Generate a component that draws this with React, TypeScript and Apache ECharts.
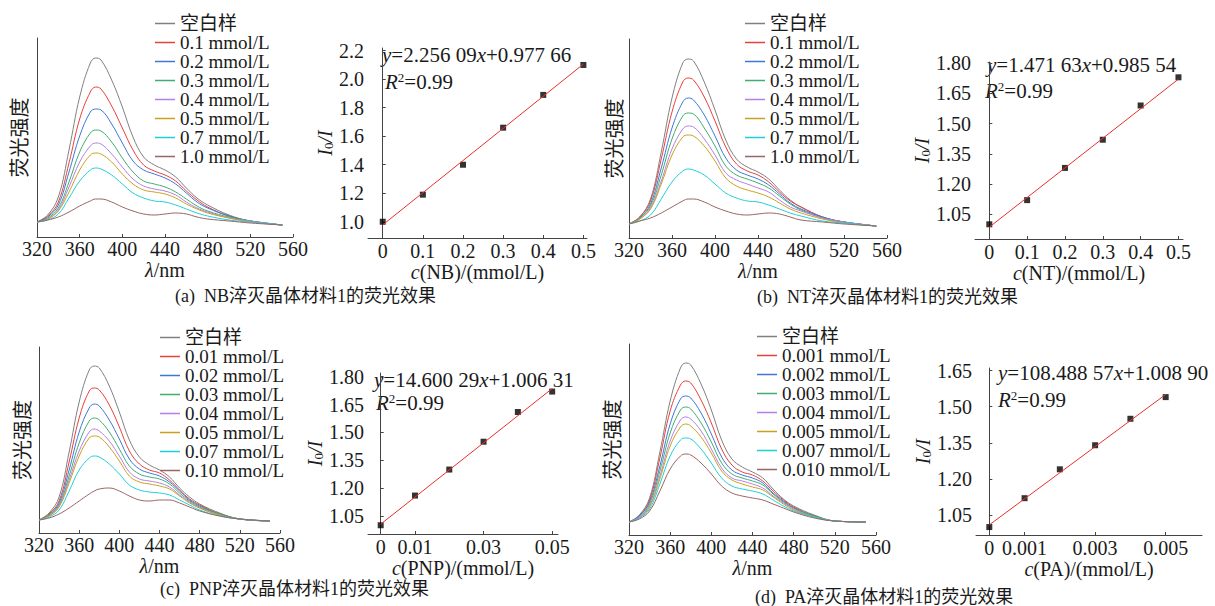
import React, { useEffect, useRef } from 'react';
import * as echarts from 'echarts';

const FONT = 'Liberation Serif, DejaVu Serif, Noto Sans CJK SC, serif';
const TXT = '#1a1a1a';
const AX = '#444444';
const COLORS = ['#808080', '#e8413c', '#3d78d8', '#3fae6f', '#b77fe6', '#c9a21c', '#1fcfd6', '#9a6464'];

// wavelength grid (nm)
const wavelengths = [320, 330, 340, 350, 360, 370, 375, 380, 390, 400, 410, 420, 430, 440, 450, 460, 470, 480, 500, 520, 550];

// legend names
const namesAB = ['空白样', '0.1 mmol/L', '0.2 mmol/L', '0.3 mmol/L', '0.4 mmol/L', '0.5 mmol/L', '0.7 mmol/L', '1.0 mmol/L'];
const namesC = ['空白样', '0.01 mmol/L', '0.02 mmol/L', '0.03 mmol/L', '0.04 mmol/L', '0.05 mmol/L', '0.07 mmol/L', '0.10 mmol/L'];
const namesD = ['空白样', '0.001 mmol/L', '0.002 mmol/L', '0.003 mmol/L', '0.004 mmol/L', '0.005 mmol/L', '0.007 mmol/L', '0.010 mmol/L'];

// (a) NB spectra
const blankA = [15, 22, 40, 87, 140, 174, 179, 177, 157, 130, 100, 80, 72, 67, 60, 49, 39, 32, 22, 16, 12];
const a01 = [15, 21, 35, 74, 118, 145, 150, 148, 131, 109, 87, 72, 66, 62, 56, 46, 37, 30, 21, 16, 12];
const a02 = [15, 20, 32, 65, 101, 125, 128, 127, 113, 94, 76, 67, 63, 59, 53, 44, 35, 29, 21, 16, 12];
const a03 = [15, 19, 29, 55, 85, 104, 107, 106, 95, 79, 65, 56, 53, 50, 45, 38, 31, 26, 20, 16, 12];
const a04 = [15, 18, 27, 50, 75, 91, 94, 93, 83, 70, 58, 51, 48, 46, 42, 35, 29, 25, 19, 16, 12];
const a05 = [15, 18, 26, 45, 67, 82, 84, 83, 75, 63, 53, 47, 45, 43, 39, 33, 28, 24, 19, 15, 12];
const a07 = [15, 17, 23, 39, 56, 67, 69, 68, 62, 53, 44, 39, 36, 35, 32, 28, 24, 21, 17, 15, 12];
const a10 = [15, 17, 20, 25, 31, 36, 38, 38, 35, 30, 26, 23, 22, 23, 24, 23, 20, 18, 16, 14, 12];

// (b) NT spectra
const blankB = [14, 21, 39, 86, 140, 175, 179, 177, 156, 128, 98, 79, 71, 66, 59, 48, 38, 31, 21, 16, 12];
const b01 = [14, 21, 37, 79, 126, 156, 160, 158, 141, 117, 91, 74, 67, 63, 56, 46, 37, 31, 21, 16, 12];
const b02 = [14, 20, 34, 70, 110, 136, 140, 138, 123, 102, 80, 68, 63, 59, 53, 44, 35, 29, 21, 16, 12];
const b03 = [14, 20, 32, 63, 99, 122, 125, 124, 110, 92, 72, 63, 59, 55, 50, 42, 34, 28, 20, 16, 12];
const b04 = [14, 19, 30, 57, 89, 109, 112, 111, 99, 83, 65, 58, 54, 50, 46, 38, 31, 27, 20, 16, 12];
const b05 = [14, 19, 29, 54, 83, 101, 103, 102, 92, 77, 60, 52, 48, 45, 41, 35, 29, 25, 19, 15, 12];
const b07 = [14, 17, 23, 39, 56, 67, 69, 68, 63, 54, 45, 40, 37, 36, 33, 29, 25, 22, 17, 15, 12];
const b10 = [14, 17, 20, 25, 31, 37, 39, 39, 36, 31, 27, 24, 23, 24, 25, 24, 21, 18, 16, 14, 12];

// (c) PNP spectra
const blankC = [13, 20, 36, 81, 131, 163, 167, 165, 147, 121, 93, 76, 68, 63, 56, 45, 36, 29, 20, 14, 12];
const c001 = [13, 19, 32, 71, 115, 142, 145, 143, 128, 106, 82, 69, 63, 60, 53, 43, 34, 28, 19, 14, 12];
const c002 = [13, 18, 30, 63, 101, 125, 129, 127, 113, 94, 74, 64, 60, 57, 51, 42, 33, 27, 19, 14, 12];
const c003 = [13, 18, 28, 57, 90, 112, 115, 113, 101, 84, 67, 59, 56, 54, 49, 40, 32, 26, 19, 14, 12];
const c004 = [13, 17, 27, 53, 82, 101, 104, 102, 92, 77, 61, 54, 52, 50, 46, 38, 31, 25, 18, 14, 12];
const c005 = [13, 17, 26, 50, 77, 95, 97, 96, 86, 72, 57, 51, 49, 47, 44, 37, 30, 25, 18, 14, 12];
const c007 = [13, 16, 23, 42, 63, 75, 77, 76, 69, 59, 48, 43, 41, 40, 38, 33, 28, 23, 17, 14, 12];
const c010 = [13, 15, 19, 25, 32, 39, 42, 44, 45, 42, 37, 33, 32, 33, 33, 30, 26, 22, 17, 14, 12];

// (d) PA spectra
const blankD = [13, 20, 37, 83, 134, 167, 172, 170, 151, 125, 95, 76, 68, 63, 57, 46, 36, 29, 20, 14, 13];
const d001 = [13, 19, 35, 77, 124, 150, 154, 152, 135, 112, 86, 70, 63, 60, 54, 44, 35, 28, 19, 14, 13];
const d002 = [13, 19, 33, 69, 111, 136, 139, 137, 122, 101, 78, 65, 60, 57, 52, 42, 34, 27, 19, 14, 13];
const d003 = [13, 18, 31, 64, 102, 125, 128, 126, 112, 93, 72, 61, 57, 54, 50, 41, 33, 27, 19, 14, 13];
const d004 = [13, 18, 29, 59, 94, 115, 118, 116, 104, 86, 67, 57, 54, 51, 47, 39, 32, 26, 18, 14, 13];
const d005 = [13, 17, 28, 56, 89, 108, 111, 109, 98, 82, 64, 55, 51, 48, 45, 38, 31, 25, 18, 14, 13];
const d007 = [13, 17, 26, 51, 79, 95, 97, 96, 86, 72, 57, 49, 46, 44, 41, 35, 29, 24, 18, 14, 13];
const d010 = [13, 16, 24, 44, 66, 79, 81, 80, 72, 61, 49, 42, 39, 37, 35, 31, 27, 23, 17, 14, 13];

// Stern-Volmer data
const concAB = [0, 0.1, 0.2, 0.3, 0.4, 0.5];
const ratioA = [1.0, 1.19, 1.4, 1.66, 1.89, 2.1];
const ratioB = [1.0, 1.12, 1.28, 1.42, 1.59, 1.73];
const concC = [0, 0.01, 0.02, 0.03, 0.04, 0.05];
const ratioC = [1.0, 1.16, 1.3, 1.45, 1.61, 1.72];
const concD = [0, 0.001, 0.002, 0.003, 0.004, 0.005];
const ratioD = [1.0, 1.12, 1.24, 1.34, 1.45, 1.54];
// fitted line end points
const fitA = [[0, 0.978], [0.5, 2.106]];
const fitB = [[0, 0.986], [0.5, 1.721]];
const fitC = [[0, 1.006], [0.05, 1.736]];
const fitD = [[0, 1.009], [0.005, 1.551]];

// tick labels
const xTicksAB = [0, 0.1, 0.2, 0.3, 0.4, 0.5];
const xTicksC = [0, 0.01, 0.03, 0.05];
const xTicksD = [0, 0.001, 0.003, 0.005];
const yTicksA = [1.0, 1.2, 1.4, 1.6, 1.8, 2.0, 2.2];
const yTicksBC = [1.05, 1.2, 1.35, 1.5, 1.65, 1.8];
const yTicksD = [1.05, 1.2, 1.35, 1.5, 1.65];

const nameStyle = (size: number) => ({
  fontFamily: FONT, fontSize: size, color: TXT,
  rich: {
    i: { fontStyle: 'italic', fontFamily: FONT, fontSize: size, color: TXT },
    sub: { fontFamily: FONT, fontSize: 13, color: TXT, verticalAlign: 'bottom', padding: [6, 0, 0, 0] },
  },
});

const specX = (gi: number, nameGap: number) => ({
  type: 'value', gridIndex: gi, min: 320, max: 560, interval: 40,
  name: '{i|λ}/nm', nameLocation: 'middle', nameGap,
  nameTextStyle: nameStyle(20),
  axisLine: { lineStyle: { color: AX, width: 1 } },
  axisTick: { inside: true, length: 3, lineStyle: { color: AX } },
  axisLabel: { fontFamily: FONT, fontSize: 20, color: TXT, margin: 2 },
  splitLine: { show: false },
});
const specY = (gi: number, max: number, nameGap: number) => ({
  type: 'value', gridIndex: gi, min: 0, max,
  name: '荧光强度', nameLocation: 'middle', nameGap, nameRotate: 90,
  nameTextStyle: { fontFamily: FONT, fontSize: 20, color: TXT },
  axisLine: { show: true, lineStyle: { color: AX, width: 1 } },
  axisTick: { show: false }, axisLabel: { show: false }, splitLine: { show: false },
});
const fitX = (gi: number, min: number, max: number, ticks: number[], name: string, nameGap: number) => ({
  type: 'value', gridIndex: gi, min, max,
  name, nameLocation: 'middle', nameGap, nameTextStyle: nameStyle(20),
  axisLine: { lineStyle: { color: AX, width: 1 } },
  axisTick: { inside: true, length: 3, customValues: ticks, lineStyle: { color: AX } },
  axisLabel: { fontFamily: FONT, fontSize: 20, color: TXT, margin: 3, customValues: ticks, formatter: (v: number) => (v === 0 ? '0' : String(v)) },
  splitLine: { show: false },
});
const fitY = (gi: number, min: number, max: number, ticks: number[], digits: number, nameGap: number) => ({
  type: 'value', gridIndex: gi, min, max,
  name: '{i|I}{sub|0}{i|/I}', nameLocation: 'middle', nameGap, nameRotate: 90, nameTextStyle: nameStyle(20),
  axisLine: { show: true, lineStyle: { color: AX, width: 1 } },
  axisTick: { show: true, inside: true, length: 3, customValues: ticks, lineStyle: { color: AX } },
  axisLabel: { fontFamily: FONT, fontSize: 20, color: TXT, margin: 4, customValues: ticks, formatter: (v: number) => v.toFixed(digits) },
  splitLine: { show: false },
});

const zip = (xs: number[], ys: number[]) => xs.map((x, i) => [x, ys[i]]);

const specSeries = (names: string[], datas: number[][], idx: number) =>
  datas.map((d, k) => ({
    type: 'line', name: names[k], xAxisIndex: idx, yAxisIndex: idx,
    data: zip(wavelengths, d), smooth: 0.4, symbol: 'none', showSymbol: false, silent: true,
    lineStyle: { width: 1, color: COLORS[k] }, itemStyle: { color: COLORS[k] },
  }));
const fitSeries = (label: string, xs: number[], ys: number[], fit: number[][], idx: number) => [
  { type: 'line', name: label + '拟合', xAxisIndex: idx, yAxisIndex: idx, data: fit, symbol: 'none', silent: true, lineStyle: { width: 1, color: '#e8302c' } },
  { type: 'scatter', name: label, xAxisIndex: idx, yAxisIndex: idx, data: zip(xs, ys), symbol: 'rect', symbolSize: 6, itemStyle: { color: '#000' }, silent: true },
];

const legend = (names: string[], left: number, top: number, size: number) => ({
  orient: 'vertical', left, top, padding: 0, itemGap: 0, itemWidth: 20, itemHeight: 1.5,
  icon: 'rect', data: names, selectedMode: false,
  textStyle: { fontFamily: FONT, fontSize: size, color: TXT, lineHeight: 19 },
});

const eqRich = {
  i: { fontStyle: 'italic', fontFamily: FONT, fontSize: 21, color: TXT },
  sup: { fontFamily: FONT, fontSize: 13, color: TXT, verticalAlign: 'top' },
};
const txt = (left: number, top: number, text: string, size = 21) => ({
  type: 'text', left, top, silent: true,
  style: { text, fontFamily: FONT, fontSize: size, fill: TXT, rich: eqRich },
});

const option = {
  animation: false,
  backgroundColor: '#ffffff',
  grid: [
    { left: 37, top: 38, width: 256, height: 199 },
    { left: 368, top: 48, width: 219, height: 190 },
    { left: 629, top: 39, width: 258, height: 199 },
    { left: 975, top: 62, width: 208, height: 177 },
    { left: 39, top: 347, width: 241, height: 186 },
    { left: 368, top: 373, width: 190, height: 161 },
    { left: 629, top: 344, width: 247, height: 191 },
    { left: 976, top: 368, width: 226, height: 167 },
  ],
  xAxis: [
    specX(0, 21),
    fitX(1, -0.0367, 0.509, xTicksAB, '{i|c}(NB)/(mmol/L)', 19),
    specX(2, 20),
    fitX(3, -0.0378, 0.512, xTicksAB, '{i|c}(NT)/(mmol/L)', 21),
    specX(4, 23),
    fitX(5, -0.0037, 0.0517, xTicksC, '{i|c}(PNP)/(mmol/L)', 23),
    specX(6, 22),
    fitX(7, -0.000377, 0.00603, xTicksD, '{i|c}(PA)/(mmol/L)', 24),
  ],
  yAxis: [
    specY(0, 199, 7),
    fitY(1, 0.886, 2.219, yTicksA, 1, 33),
    specY(2, 199, 4),
    fitY(3, 0.927, 1.806, yTicksBC, 2, 43),
    specY(4, 186, 6),
    fitY(5, 0.953, 1.82, yTicksBC, 2, 35),
    specY(6, 191, 6),
    fitY(7, 0.967, 1.661, yTicksD, 2, 39),
  ],
  legend: [
    legend(namesAB, 155, 14, 19),
    legend(namesAB, 745, 14, 19),
    legend(namesC, 160, 328, 19),
    legend(namesD, 757, 327, 19),
  ],
  series: [
    ...specSeries(namesAB, [blankA, a01, a02, a03, a04, a05, a07, a10], 0),
    ...fitSeries('NB', concAB, ratioA, fitA, 1),
    ...specSeries(namesAB, [blankB, b01, b02, b03, b04, b05, b07, b10], 2),
    ...fitSeries('NT', concAB, ratioB, fitB, 3),
    ...specSeries(namesC, [blankC, c001, c002, c003, c004, c005, c007, c010], 4),
    ...fitSeries('PNP', concC, ratioC, fitC, 5),
    ...specSeries(namesD, [blankD, d001, d002, d003, d004, d005, d007, d010], 6),
    ...fitSeries('PA', concD, ratioD, fitD, 7),
  ],
  graphic: [
    txt(382, 44, '{i|y}=2.256 09{i|x}+0.977 66'),
    txt(385, 71, '{i|R}{sup|2}=0.99'),
    txt(987, 54, '{i|y}=1.471 63{i|x}+0.985 54'),
    txt(985, 80, '{i|R}{sup|2}=0.99'),
    txt(374, 369, '{i|y}=14.600 29{i|x}+1.006 31'),
    txt(376, 392, '{i|R}{sup|2}=0.99'),
    txt(998, 362, '{i|y}=108.488 57{i|x}+1.008 90'),
    txt(998, 389, '{i|R}{sup|2}=0.99'),
    txt(175, 287, '(a)  NB淬灭晶体材料1的荧光效果', 18),
    txt(757, 288, '(b)  NT淬灭晶体材料1的荧光效果', 18),
    txt(160, 580, '(c)  PNP淬灭晶体材料1的荧光效果', 18),
    txt(755, 588, '(d)  PA淬灭晶体材料1的荧光效果', 18),
  ],
};

export default function App() {
  const ref = useRef<HTMLDivElement>(null);
  useEffect(() => {
    document.body.style.margin = '0';
    const chart = echarts.init(ref.current as HTMLDivElement, null, { renderer: 'svg' });
    chart.setOption(option as any);
    return () => chart.dispose();
  }, []);
  return <div ref={ref} style={{ width: 1215, height: 606 }} />;
}
